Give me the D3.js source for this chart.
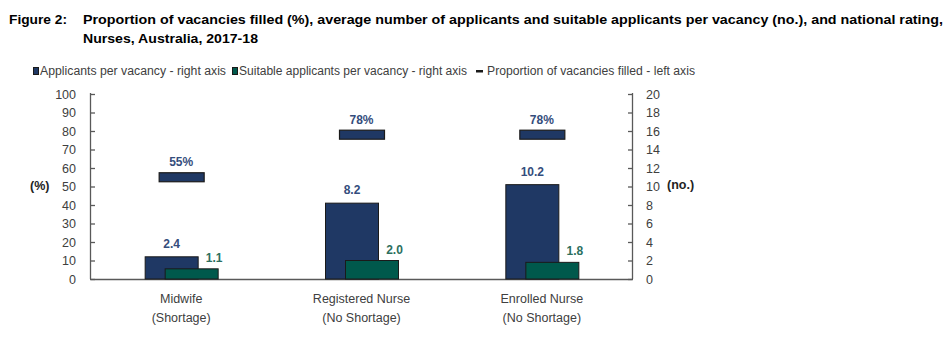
<!DOCTYPE html>
<html><head><meta charset="utf-8">
<script src="https://cdn.jsdelivr.net/npm/d3@7"></script>
<style>
body{margin:0;background:#fff;}
svg{display:block;font-family:"Liberation Sans",Arial,sans-serif;}
</style></head>
<body><svg id="c" width="949" height="340"></svg>
<script>
const categories = ["Midwife|(Shortage)", "Registered Nurse|(No Shortage)", "Enrolled Nurse|(No Shortage)"];
const applicants = [2.4, 8.2, 10.2];
const suitable = [1.1, 2.0, 1.8];
const filled = [55, 78, 78];
const leftTicks = [0,10,20,30,40,50,60,70,80,90,100];
const rightTicks = [0,2,4,6,8,10,12,14,16,18,20];
const seriesNames = ["Applicants per vacancy - right axis","Suitable applicants per vacancy - right axis","Proportion of vacancies filled - left axis"];
const titleLine1 = "Proportion of vacancies filled (%), average number of applicants and suitable applicants per vacancy (no.), and national rating,";
const titleLine2 = "Nurses, Australia, 2017-18";

const BLUE = "#1F3864", GREEN = "#00594C", OUT = "#1a1a1a";
const BLUE_TXT = "#344D7C", GREEN_TXT = "#2C6F5E", AX = "#595959", TXT = "#404040";

const svg = d3.select("#c");
const L = 91, R = 632, T = 94, B = 279;
const x = d3.scaleBand().domain(categories).range([L, R]).padding(0);
const yL = d3.scaleLinear().domain([0,100]).range([B, T]);
const yR = d3.scaleLinear().domain([0,20]).range([B, T]);

// title
function fitText(sel, w){ sel.attr("textLength", w).attr("lengthAdjust","spacingAndGlyphs"); }
svg.append("text").attr("x",9).attr("y",24).attr("font-weight","bold").attr("font-size",13.5).attr("fill","#000")
  .text("Figure 2:").call(fitText, 58);
svg.append("text").attr("x",83).attr("y",24).attr("font-weight","bold").attr("font-size",13.5).attr("fill","#000")
  .text(titleLine1).call(fitText, 860);
svg.append("text").attr("x",83).attr("y",43).attr("font-weight","bold").attr("font-size",13.5).attr("fill","#000")
  .text(titleLine2).call(fitText, 175);

// legend
const lg = svg.append("g").attr("font-size",12).attr("fill",TXT);
const legItems = [
  {x:33, tw:186, type:"sq", color:BLUE},
  {x:232, tw:228, type:"sq", color:GREEN},
  {x:476, tw:208, type:"dash", color:BLUE}
];
legItems.forEach((d,i)=>{
  if(d.type==="sq"){
    lg.append("rect").attr("x",d.x+0.5).attr("y",67.5).attr("width",5).attr("height",7).attr("fill",d.color).attr("stroke",OUT).attr("stroke-width",1);
  } else {
    lg.append("rect").attr("x",d.x).attr("y",70).attr("width",7).attr("height",2.5).attr("fill",OUT);
  }
  const tx = d.type==="sq" ? d.x+7 : d.x+11;
  lg.append("text").attr("x",tx).attr("y",75).text(seriesNames[i]).call(fitText, d.tw);
});

// axes
const axL = d3.axisLeft(yL).tickValues(leftTicks).tickSize(-4).tickPadding(15);
const gL = svg.append("g").attr("transform",`translate(${L},0)`).call(axL);
const axR = d3.axisRight(yR).tickValues(rightTicks).tickSize(-4).tickPadding(14);
const gR = svg.append("g").attr("transform",`translate(${R},0)`).call(axR);
[gL,gR].forEach(g=>{
  g.select(".domain").attr("stroke",AX).attr("stroke-width",1.3).attr("d", g===gL ? `M-0.5,${T-1}V${B}` : `M0.5,${T-1}V${B}`);
  g.selectAll(".tick line").attr("stroke",AX).attr("stroke-width",1.3);
  g.selectAll(".tick text").attr("fill",TXT).attr("font-size",12.5).attr("font-family","'Liberation Sans',Arial,sans-serif");
});
gL.selectAll(".tick line").attr("x1",0);
svg.append("line").attr("x1",L-1).attr("x2",R+1).attr("y1",B+0.5).attr("y2",B+0.5).attr("stroke",AX).attr("stroke-width",1.3);

svg.append("text").attr("x",30).attr("y",190).attr("font-weight","bold").attr("font-size",12.5).attr("fill","#222").text("(%)");
svg.append("text").attr("x",667).attr("y",189).attr("font-weight","bold").attr("font-size",12.5).attr("fill","#222").text("(no.)");

// bars
const bw = 53;
const cx = c => x(c) + x.bandwidth()/2;
const g = svg.append("g");
categories.forEach((c,i)=>{
  const c0 = cx(c);
  g.append("rect").attr("x",c0-36).attr("y",yR(applicants[i])).attr("width",bw).attr("height",B-yR(applicants[i]))
    .attr("fill",BLUE).attr("stroke",OUT).attr("stroke-width",1);
  g.append("rect").attr("x",c0-16).attr("y",yR(suitable[i])).attr("width",bw).attr("height",B-yR(suitable[i]))
    .attr("fill",GREEN).attr("stroke",OUT).attr("stroke-width",1);
  g.append("rect").attr("x",c0-22).attr("y",yL(filled[i])-4.5).attr("width",45).attr("height",9)
    .attr("fill",BLUE).attr("stroke",OUT).attr("stroke-width",1.2);
  g.append("text").attr("x",c0-9.5).attr("y",yR(applicants[i])-9).attr("text-anchor","middle")
    .attr("font-weight","bold").attr("font-size",12).attr("fill",BLUE_TXT).text(applicants[i].toFixed(1));
  g.append("text").attr("x",c0+33).attr("y",yR(suitable[i])-7).attr("text-anchor","middle")
    .attr("font-weight","bold").attr("font-size",12).attr("fill",GREEN_TXT).text(suitable[i].toFixed(1));
  g.append("text").attr("x",c0).attr("y",yL(filled[i])-11).attr("text-anchor","middle")
    .attr("font-weight","bold").attr("font-size",12).attr("fill",BLUE_TXT).text(filled[i]+"%");
  const parts = c.split("|");
  parts.forEach((p,j)=>{
    svg.append("text").attr("x",c0).attr("y",303+j*19).attr("text-anchor","middle")
      .attr("font-size",12.5).attr("fill",TXT).text(p);
  });
});
</script></body></html>
